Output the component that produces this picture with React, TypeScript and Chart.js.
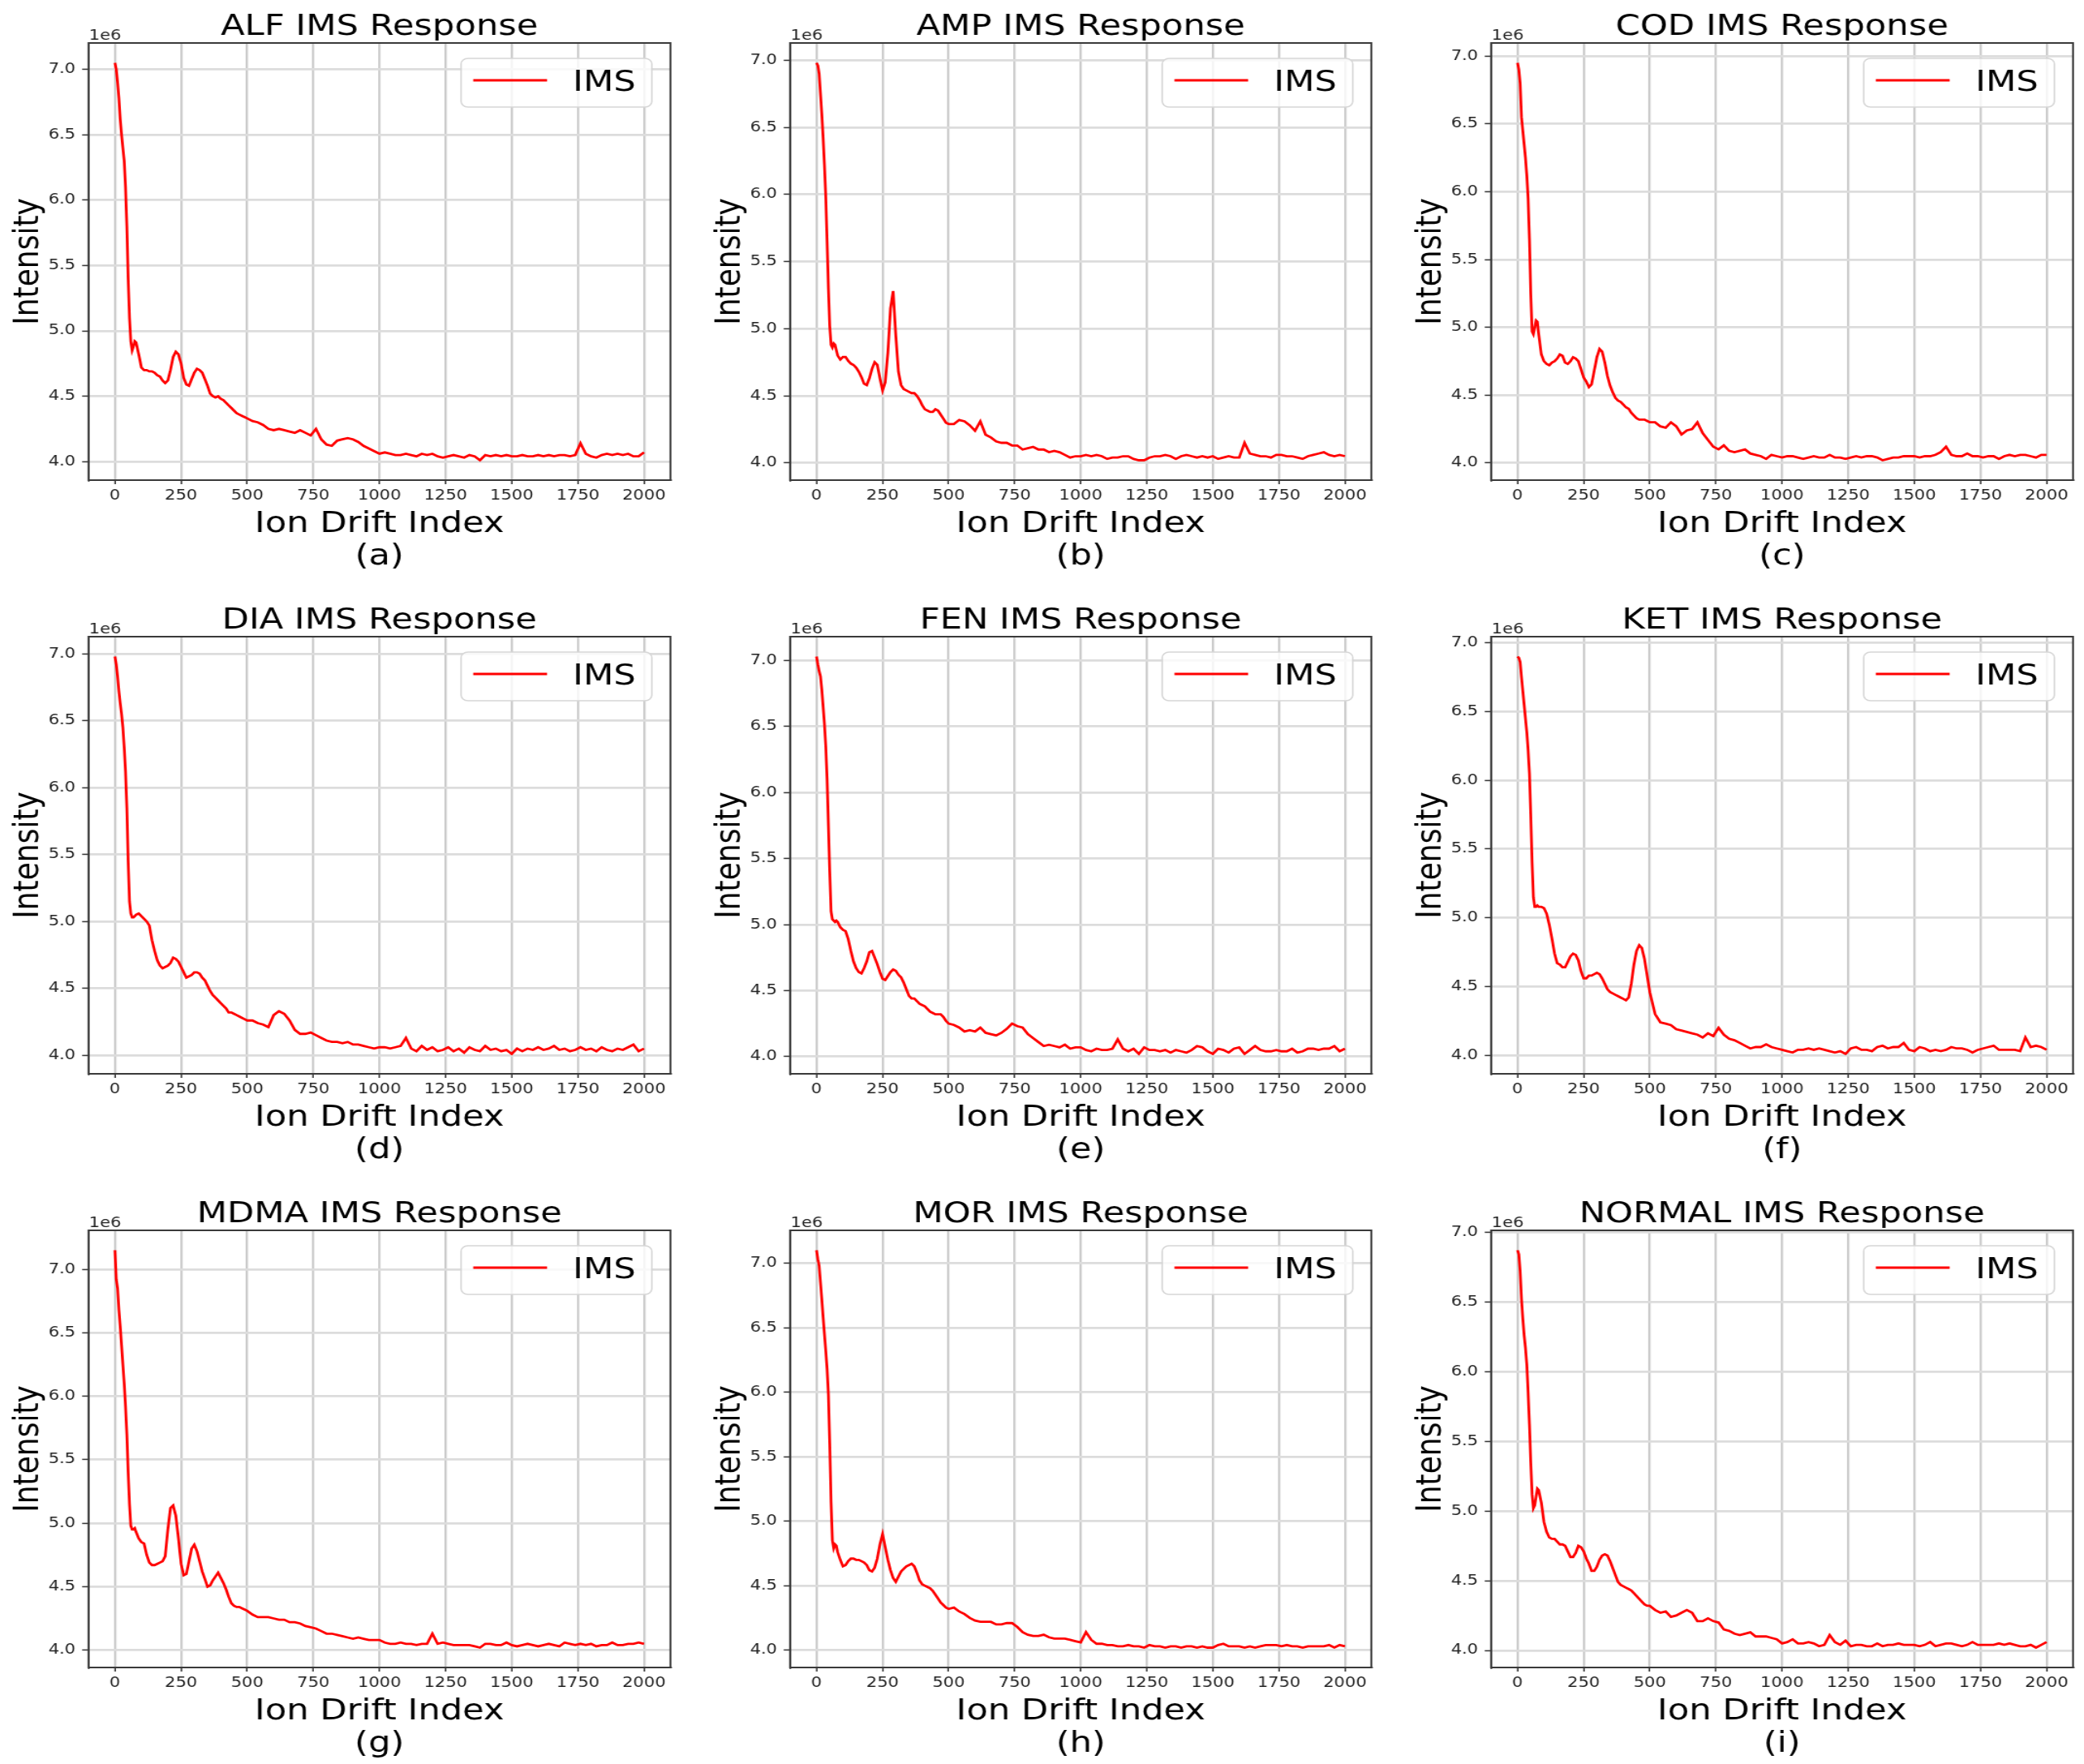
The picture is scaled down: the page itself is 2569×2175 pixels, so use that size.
import React, { useEffect, useRef } from "react";
import { Chart, registerables } from "chart.js";

Chart.register(...registerables);

// ---------------- data (intensity values in units of 1e6) ----------------
const X_INDEX = [
  0, 5, 10, 15, 20, 25, 30, 35, 40, 45, 50, 55, 60, 65, 70, 75, 80,
  90, 100, 110, 120, 130, 140, 150, 160, 170, 180, 190, 200, 210, 220, 230, 240, 250, 260, 270, 280,
  290, 300, 310, 320, 330, 340, 350, 360, 370, 380, 390, 400, 410, 420, 430, 440, 450, 460, 470, 480,
  490, 500,
  520, 540, 560, 580, 600, 620, 640, 660, 680, 700, 720, 740, 760, 780, 800, 820, 840, 860, 880, 900,
  920, 940, 960, 980, 1000, 1020, 1040, 1060, 1080, 1100, 1120, 1140, 1160, 1180, 1200, 1220, 1240, 1260, 1280, 1300,
  1320, 1340, 1360, 1380, 1400, 1420, 1440, 1460, 1480, 1500, 1520, 1540, 1560, 1580, 1600, 1620, 1640, 1660, 1680, 1700,
  1720, 1740, 1760, 1780, 1800, 1820, 1840, 1860, 1880, 1900, 1920, 1940, 1960, 1980, 2000,
];

const ALF = [
  7.05, 7.0, 6.9, 6.78, 6.62, 6.5, 6.4, 6.3, 6.1, 5.8, 5.4, 5.1, 4.92, 4.85, 4.88, 4.92, 4.91,
  4.82, 4.72, 4.7, 4.7, 4.69, 4.69, 4.68, 4.66, 4.65, 4.62,
  4.6, 4.62, 4.7, 4.8, 4.84, 4.82, 4.75, 4.64, 4.59, 4.58,
  4.63, 4.68, 4.71, 4.7, 4.68, 4.63, 4.58, 4.52, 4.5, 4.49,
  4.5, 4.48, 4.47, 4.45, 4.43, 4.41, 4.39, 4.37, 4.36, 4.35,
  4.34, 4.33,
  4.31, 4.3, 4.28, 4.25, 4.24, 4.25, 4.24, 4.23, 4.22, 4.24,
  4.22, 4.2, 4.25, 4.17, 4.13, 4.12, 4.16, 4.17, 4.18, 4.17,
  4.15, 4.12, 4.1, 4.08, 4.06, 4.07, 4.06, 4.05, 4.05, 4.06,
  4.05, 4.04, 4.06, 4.05, 4.06, 4.04, 4.03, 4.04, 4.05, 4.04,
  4.03, 4.05, 4.04, 4.01, 4.05, 4.04, 4.05, 4.04, 4.05, 4.04,
  4.04, 4.05, 4.04, 4.04, 4.05, 4.04, 4.05, 4.04, 4.05, 4.05,
  4.04, 4.05, 4.14, 4.06, 4.04, 4.03, 4.05, 4.06, 4.05, 4.06,
  4.05, 4.06, 4.04, 4.04, 4.07,
];

const AMP = [
  6.98, 6.96, 6.9, 6.75, 6.6, 6.42, 6.22, 5.98, 5.65, 5.3, 5.02, 4.88, 4.86, 4.89, 4.88, 4.84, 4.8,
  4.77, 4.79, 4.79, 4.76, 4.74, 4.73, 4.71, 4.68, 4.64, 4.59,
  4.58, 4.63, 4.7, 4.75, 4.73, 4.63, 4.54, 4.6, 4.82, 5.15,
  5.28, 4.95, 4.68, 4.58, 4.55, 4.54, 4.53, 4.52, 4.52, 4.5,
  4.47, 4.43, 4.4, 4.39, 4.38, 4.38, 4.4, 4.39, 4.36, 4.33,
  4.3, 4.29,
  4.29, 4.32, 4.31, 4.28, 4.24, 4.31, 4.21, 4.19, 4.16, 4.15,
  4.15, 4.13, 4.13, 4.1, 4.11, 4.12, 4.1, 4.1, 4.08, 4.09,
  4.08, 4.06, 4.04, 4.05, 4.05, 4.06, 4.05, 4.06, 4.05, 4.03,
  4.04, 4.04, 4.05, 4.05, 4.03, 4.02, 4.02, 4.04, 4.05, 4.05,
  4.06, 4.05, 4.03, 4.05, 4.06, 4.05, 4.04, 4.05, 4.04, 4.05,
  4.03, 4.04, 4.05, 4.04, 4.04, 4.15, 4.07, 4.06, 4.05, 4.05,
  4.04, 4.06, 4.06, 4.05, 4.05, 4.04, 4.03, 4.05, 4.06, 4.07,
  4.08, 4.06, 4.05, 4.06, 4.05,
];

const COD = [
  6.95, 6.9, 6.8, 6.55, 6.45, 6.35, 6.25, 6.12, 5.95, 5.65, 5.25, 4.97, 4.95, 5.0, 5.05, 5.04, 4.95,
  4.8, 4.75, 4.73, 4.72, 4.74, 4.75, 4.77, 4.8, 4.79, 4.74,
  4.73, 4.75, 4.78, 4.77, 4.75, 4.69, 4.63, 4.6, 4.56, 4.58,
  4.68, 4.78, 4.84, 4.82, 4.74, 4.64, 4.57, 4.52, 4.48, 4.46,
  4.45, 4.43, 4.41, 4.4, 4.37, 4.35, 4.33, 4.32, 4.32, 4.32,
  4.31, 4.3,
  4.3, 4.27, 4.26, 4.3, 4.27, 4.21, 4.24, 4.25, 4.3, 4.22,
  4.17, 4.12, 4.1, 4.13, 4.09, 4.08, 4.09, 4.1, 4.07, 4.06,
  4.05, 4.03, 4.06, 4.05, 4.04, 4.05, 4.05, 4.04, 4.03, 4.04,
  4.05, 4.04, 4.04, 4.06, 4.04, 4.04, 4.03, 4.04, 4.05, 4.04,
  4.05, 4.05, 4.04, 4.02, 4.03, 4.04, 4.04, 4.05, 4.05, 4.05,
  4.04, 4.05, 4.05, 4.06, 4.08, 4.12, 4.06, 4.05, 4.05, 4.07,
  4.05, 4.05, 4.04, 4.05, 4.05, 4.03, 4.05, 4.06, 4.05, 4.06,
  4.06, 4.05, 4.04, 4.06, 4.06,
];

const DIA = [
  6.98, 6.92, 6.83, 6.72, 6.63, 6.55, 6.45, 6.3, 6.12, 5.85, 5.45, 5.15, 5.06, 5.03, 5.03, 5.04, 5.05,
  5.06, 5.04, 5.02, 5.0, 4.97, 4.86, 4.78, 4.71, 4.67, 4.65,
  4.66, 4.67, 4.69, 4.73, 4.72, 4.7, 4.66, 4.62, 4.58, 4.59,
  4.6, 4.62, 4.62, 4.61, 4.58, 4.56, 4.52, 4.48, 4.45, 4.43,
  4.41, 4.39, 4.37, 4.35, 4.32, 4.32, 4.31, 4.3, 4.29, 4.28,
  4.27, 4.26,
  4.26, 4.24, 4.23, 4.21, 4.3, 4.33, 4.31, 4.26, 4.19, 4.16,
  4.16, 4.17, 4.15, 4.13, 4.11, 4.1, 4.1, 4.09, 4.1, 4.08,
  4.08, 4.07, 4.06, 4.05, 4.06, 4.06, 4.05, 4.06, 4.07, 4.13,
  4.05, 4.03, 4.07, 4.04, 4.06, 4.03, 4.04, 4.06, 4.03, 4.05,
  4.02, 4.06, 4.04, 4.03, 4.07, 4.04, 4.05, 4.03, 4.04, 4.01,
  4.05, 4.03, 4.05, 4.04, 4.06, 4.04, 4.05, 4.07, 4.04, 4.05,
  4.03, 4.04, 4.06, 4.04, 4.05, 4.03, 4.06, 4.04, 4.03, 4.05,
  4.04, 4.06, 4.08, 4.03, 4.05,
];

const FEN = [
  7.03, 6.97, 6.92, 6.88, 6.78, 6.65, 6.52, 6.35, 6.1, 5.75, 5.4, 5.1, 5.04, 5.03, 5.02, 5.03, 5.02,
  4.98, 4.96, 4.95, 4.89, 4.8, 4.72, 4.67, 4.64, 4.63, 4.67,
  4.72, 4.79, 4.8, 4.75, 4.7, 4.64, 4.59, 4.58, 4.61, 4.64,
  4.66, 4.65, 4.62, 4.6, 4.56, 4.51, 4.46, 4.44, 4.44, 4.42,
  4.4, 4.39, 4.38, 4.36, 4.34, 4.33, 4.32, 4.32, 4.32, 4.3,
  4.27, 4.25,
  4.24, 4.22, 4.19, 4.2, 4.19, 4.22, 4.18, 4.17, 4.16, 4.18,
  4.21, 4.25, 4.23, 4.22, 4.17, 4.14, 4.11, 4.08, 4.09, 4.08,
  4.07, 4.09, 4.06, 4.07, 4.07, 4.05, 4.04, 4.06, 4.05, 4.05,
  4.06, 4.13, 4.06, 4.04, 4.06, 4.02, 4.07, 4.05, 4.05, 4.04,
  4.05, 4.03, 4.05, 4.04, 4.03, 4.05, 4.08, 4.07, 4.04, 4.02,
  4.06, 4.05, 4.03, 4.06, 4.07, 4.02, 4.05, 4.08, 4.05, 4.04,
  4.04, 4.05, 4.04, 4.04, 4.06, 4.03, 4.04, 4.06, 4.06, 4.05,
  4.06, 4.06, 4.08, 4.04, 4.06,
];

const KET = [
  6.9, 6.89, 6.86, 6.75, 6.65, 6.55, 6.45, 6.35, 6.22, 6.05, 5.75, 5.4, 5.15, 5.08, 5.08, 5.09, 5.08,
  5.08, 5.07, 5.03, 4.95, 4.85, 4.74, 4.67, 4.66, 4.64, 4.64,
  4.68, 4.72, 4.74, 4.73, 4.69, 4.61, 4.56, 4.56, 4.58, 4.58,
  4.59, 4.6, 4.59, 4.56, 4.52, 4.48, 4.46, 4.45, 4.44, 4.43,
  4.42, 4.41, 4.4, 4.42, 4.52, 4.66, 4.76, 4.8, 4.78, 4.7,
  4.58, 4.46,
  4.3, 4.24, 4.23, 4.22, 4.19, 4.18, 4.17, 4.16, 4.15, 4.13,
  4.16, 4.14, 4.2, 4.15, 4.12, 4.11, 4.09, 4.07, 4.05, 4.06,
  4.06, 4.08, 4.06, 4.05, 4.04, 4.03, 4.02, 4.04, 4.04, 4.05,
  4.04, 4.05, 4.04, 4.03, 4.02, 4.03, 4.01, 4.05, 4.06, 4.04,
  4.04, 4.03, 4.06, 4.07, 4.05, 4.06, 4.06, 4.09, 4.04, 4.03,
  4.06, 4.05, 4.03, 4.04, 4.03, 4.04, 4.06, 4.05, 4.05, 4.04,
  4.02, 4.04, 4.05, 4.06, 4.07, 4.04, 4.04, 4.04, 4.04, 4.03,
  4.13, 4.06, 4.07, 4.06, 4.04,
];

const MDMA = [
  7.15, 6.92, 6.85, 6.68, 6.55, 6.4, 6.25, 6.1, 5.92, 5.7, 5.4, 5.15, 4.98, 4.95, 4.95, 4.96, 4.93,
  4.88, 4.85, 4.84, 4.75, 4.69, 4.67, 4.67, 4.68, 4.69, 4.7,
  4.74, 4.95, 5.12, 5.14, 5.06, 4.88, 4.68, 4.59, 4.6, 4.7,
  4.8, 4.83, 4.78, 4.7, 4.62, 4.56, 4.5, 4.51, 4.55, 4.58,
  4.61, 4.57, 4.53, 4.48, 4.42, 4.37, 4.35, 4.34, 4.34, 4.33,
  4.32, 4.31,
  4.28, 4.26, 4.26, 4.26, 4.25, 4.24, 4.24, 4.22, 4.22, 4.21,
  4.19, 4.18, 4.17, 4.15, 4.13, 4.13, 4.12, 4.11, 4.1, 4.09,
  4.1, 4.09, 4.08, 4.08, 4.08, 4.06, 4.05, 4.05, 4.06, 4.05,
  4.05, 4.04, 4.05, 4.05, 4.13, 4.05, 4.06, 4.05, 4.04, 4.04,
  4.04, 4.04, 4.03, 4.02, 4.05, 4.05, 4.04, 4.04, 4.06, 4.04,
  4.03, 4.04, 4.05, 4.04, 4.03, 4.04, 4.05, 4.04, 4.03, 4.06,
  4.05, 4.04, 4.05, 4.04, 4.05, 4.03, 4.04, 4.04, 4.06, 4.04,
  4.04, 4.05, 4.05, 4.06, 4.05,
];

const MOR = [
  7.1, 7.03, 6.98, 6.85, 6.72, 6.58, 6.45, 6.32, 6.18, 5.98, 5.6, 5.15, 4.85, 4.79, 4.82, 4.81, 4.76,
  4.7, 4.65, 4.66, 4.69, 4.71, 4.71, 4.7, 4.7, 4.69, 4.68,
  4.66, 4.62, 4.61, 4.64, 4.71, 4.82, 4.9, 4.8, 4.7, 4.62,
  4.56, 4.53, 4.57, 4.61, 4.63, 4.65, 4.66, 4.67, 4.65, 4.6,
  4.54, 4.51, 4.5, 4.49, 4.48, 4.46, 4.43, 4.4, 4.37, 4.35,
  4.33, 4.32,
  4.33, 4.3, 4.28, 4.25, 4.23, 4.22, 4.22, 4.22, 4.2, 4.2,
  4.21, 4.21, 4.18, 4.14, 4.12, 4.11, 4.11, 4.12, 4.1, 4.09,
  4.09, 4.09, 4.08, 4.07, 4.06, 4.14, 4.08, 4.05, 4.05, 4.04,
  4.04, 4.03, 4.03, 4.04, 4.03, 4.03, 4.02, 4.04, 4.03, 4.03,
  4.02, 4.03, 4.03, 4.02, 4.03, 4.03, 4.02, 4.03, 4.02, 4.02,
  4.04, 4.05, 4.03, 4.03, 4.03, 4.02, 4.03, 4.02, 4.03, 4.04,
  4.04, 4.04, 4.03, 4.04, 4.03, 4.03, 4.02, 4.03, 4.03, 4.03,
  4.03, 4.04, 4.02, 4.04, 4.03,
];

const NORMAL = [
  6.87, 6.84, 6.72, 6.52, 6.38, 6.26, 6.17, 6.05, 5.85, 5.62, 5.35, 5.12, 5.02, 5.04, 5.1, 5.16, 5.15,
  5.06, 4.92, 4.85, 4.81, 4.8, 4.8, 4.78, 4.76, 4.76, 4.75,
  4.71, 4.67, 4.67, 4.7, 4.75, 4.74, 4.71, 4.66, 4.62, 4.57,
  4.57, 4.6, 4.65, 4.68, 4.69, 4.68, 4.64, 4.59, 4.54, 4.49,
  4.47, 4.46, 4.45, 4.44, 4.43, 4.41, 4.39, 4.37, 4.35, 4.33,
  4.32, 4.32,
  4.29, 4.27, 4.28, 4.24, 4.25, 4.27, 4.29, 4.27, 4.21, 4.21,
  4.23, 4.21, 4.2, 4.15, 4.14, 4.12, 4.11, 4.12, 4.13, 4.1,
  4.1, 4.1, 4.09, 4.08, 4.05, 4.06, 4.08, 4.05, 4.05, 4.06,
  4.05, 4.03, 4.04, 4.11, 4.06, 4.04, 4.07, 4.03, 4.04, 4.04,
  4.03, 4.03, 4.05, 4.03, 4.04, 4.04, 4.05, 4.04, 4.04, 4.04,
  4.03, 4.04, 4.06, 4.03, 4.04, 4.05, 4.05, 4.04, 4.03, 4.04,
  4.06, 4.04, 4.04, 4.04, 4.04, 4.05, 4.04, 4.05, 4.04, 4.03,
  4.03, 4.04, 4.02, 4.04, 4.06,
];

const SERIES = [ALF, AMP, COD, DIA, FEN, KET, MDMA, MOR, NORMAL];
const PANEL_TITLES = [
  "ALF IMS Response", "AMP IMS Response", "COD IMS Response",
  "DIA IMS Response", "FEN IMS Response", "KET IMS Response",
  "MDMA IMS Response", "MOR IMS Response", "NORMAL IMS Response",
];
const PANEL_CAPTIONS = ["(a)", "(b)", "(c)", "(d)", "(e)", "(f)", "(g)", "(h)", "(i)"];
const X_TICKS = [0, 250, 500, 750, 1000, 1250, 1500, 1750, 2000];
const Y_TICKS = [4.0, 4.5, 5.0, 5.5, 6.0, 6.5, 7.0];
const LEGEND_LABEL = "IMS";
const X_LABEL = "Ion Drift Index";
const Y_LABEL = "Intensity";
const OFFSET_LABEL = "1e6";
const UNIT = 1e6;

// ---------------- layout ----------------
const CELL_W = 864.5; // css px
const CELL_H = 732;
const CANVAS_W = 720; // internal px (stretched horizontally to CELL_W)
const PLOT_LEFT = 90.78;
const PLOT_TOP = 53;
const PLOT_RIGHT_PAD = 32.1;
const X_AXIS_H = 40;
const PLOT_BOTTOM = 592;
const FONT = "'DejaVu Sans', sans-serif";
const RED = "#ff0000";

const decorPlugin = {
  id: "decor",
  afterDraw(chart: any, _args: any, opts: any) {
    const { ctx, chartArea: ca } = chart;
    const cx = (ca.left + ca.right) / 2;
    const cy = (ca.top + ca.bottom) / 2;
    ctx.save();
    // frame
    ctx.strokeStyle = "#3a3a3a";
    ctx.lineWidth = 2;
    ctx.strokeRect(ca.left, ca.top, ca.right - ca.left, ca.bottom - ca.top);

    // big texts
    ctx.fillStyle = "#000";
    ctx.font = `36px ${FONT}`;
    ctx.textAlign = "center";
    ctx.textBaseline = "alphabetic";
    ctx.fillText(opts.title, cx, ca.top - 10);
    ctx.fillText(X_LABEL, cx, 656);
    ctx.fillText(opts.caption, cx, 696);

    ctx.save();
    ctx.translate(38.5, cy);
    ctx.rotate(-Math.PI / 2);
    ctx.fillText(Y_LABEL, 0, 0);
    ctx.restore();

    // offset text
    ctx.font = `17.5px ${FONT}`;
    ctx.fillStyle = "#222";
    ctx.textAlign = "left";
    ctx.fillText(OFFSET_LABEL, ca.left + 0.5, ca.top - 4);

    // legend
    const bl = ca.right - 214.8;
    const br = ca.right - 19.1;
    const bt = ca.top + 19;
    const bb = ca.top + 79;
    ctx.beginPath();
    if ((ctx as any).roundRect) {
      (ctx as any).roundRect(bl, bt, br - bl, bb - bt, 7);
    } else {
      ctx.rect(bl, bt, br - bl, bb - bt);
    }
    ctx.fillStyle = "rgba(255,255,255,0.8)";
    ctx.fill();
    ctx.strokeStyle = "#d6d6d6";
    ctx.lineWidth = 1.6;
    ctx.stroke();

    ctx.beginPath();
    ctx.moveTo(ca.right - 202.3, ca.top + 46);
    ctx.lineTo(ca.right - 126.6, ca.top + 46);
    ctx.strokeStyle = RED;
    ctx.lineWidth = 2.8;
    ctx.stroke();

    ctx.fillStyle = "#000";
    ctx.font = `36px ${FONT}`;
    ctx.textAlign = "left";
    ctx.fillText(LEGEND_LABEL, ca.right - 100.1, ca.top + 59);
    ctx.restore();
  },
};

function Panel({ idx }: { idx: number }) {
  const ref = useRef<HTMLCanvasElement | null>(null);

  useEffect(() => {
    const canvas = ref.current;
    if (!canvas) return;
    const vals = SERIES[idx];
    const n = Math.min(vals.length, X_INDEX.length);
    const points = [] as { x: number; y: number }[];
    for (let i = 0; i < n; i++) points.push({ x: X_INDEX[i], y: vals[i] * UNIT });

    const xs = X_INDEX.slice(0, n);
    const xLo = Math.min(...xs);
    const xHi = Math.max(...xs);
    const xPad = (xHi - xLo) * 0.05;
    const ys = vals.slice(0, n);
    const yLo = Math.min(...ys);
    const yHi = Math.max(...ys);
    const yPad = (yHi - yLo) * 0.05;

    const chart = new Chart(canvas, {
      type: "line",
      data: {
        datasets: [
          {
            label: LEGEND_LABEL,
            data: points,
            borderColor: RED,
            backgroundColor: RED,
            borderWidth: 2.8,
            pointRadius: 0,
            tension: 0,
            fill: false,
          },
        ],
      },
      options: {
        animation: false,
        responsive: false,
        devicePixelRatio: 1,
        events: [],
        layout: {
          padding: {
            left: 0,
            top: PLOT_TOP,
            right: PLOT_RIGHT_PAD,
            bottom: CELL_H - PLOT_BOTTOM - X_AXIS_H,
          },
        },
        plugins: {
          legend: { display: false },
          title: { display: false },
          tooltip: { enabled: false },
          decor: { title: PANEL_TITLES[idx], caption: PANEL_CAPTIONS[idx] },
        } as any,
        scales: {
          x: {
            type: "linear",
            min: (xLo - xPad),
            max: (xHi + xPad),
            afterFit: (s: any) => {
              s.height = X_AXIS_H;
            },
            afterBuildTicks: (s: any) => {
              s.ticks = X_TICKS.map((v) => ({ value: v }));
            },
            grid: {
              color: "#cccccc",
              lineWidth: 2.4,
              drawTicks: true,
              tickLength: 5,
              tickColor: "#3a3a3a",
              tickWidth: 1.6,
            },
            border: { display: true, color: "#3a3a3a", width: 2 },
            ticks: {
              autoSkip: false,
              maxRotation: 0,
              padding: 3.5,
              color: "#222",
              font: { family: FONT, size: 17.5 },
              callback: (v: any) => String(v),
            },
          },
          y: {
            type: "linear",
            min: (yLo - yPad) * UNIT,
            max: (yHi + yPad) * UNIT,
            afterFit: (s: any) => {
              s.width = PLOT_LEFT;
            },
            afterBuildTicks: (s: any) => {
              s.ticks = Y_TICKS.filter((v) => v * UNIT >= s.min - 1 && v * UNIT <= s.max + 1).map((v) => ({
                value: v * UNIT,
              }));
            },
            grid: {
              color: "#dcdcdc",
              lineWidth: 2.8,
              drawTicks: true,
              tickLength: 6.5,
              tickColor: "#3a3a3a",
              tickWidth: 1.6,
            },
            border: { display: true, color: "#3a3a3a", width: 2 },
            ticks: {
              autoSkip: false,
              padding: 6.8,
              color: "#222",
              font: { family: FONT, size: 17.5 },
              callback: (v: any) => (Number(v) / UNIT).toFixed(1),
            },
          },
        },
      },
      plugins: [decorPlugin],
    } as any);

    return () => chart.destroy();
  }, [idx]);

  const col = idx % 3;
  const row = Math.floor(idx / 3);
  return (
    <canvas
      ref={ref}
      width={CANVAS_W}
      height={CELL_H}
      style={{
        position: "absolute",
        left: col * CELL_W,
        top: row * CELL_H,
        width: CELL_W,
        height: CELL_H,
      }}
    />
  );
}

export default function App() {
  return (
    <div
      style={{
        position: "absolute",
        left: 0,
        top: 0,
        width: 2569,
        height: 2175,
        background: "#ffffff",
        overflow: "hidden",
      }}
    >
      {SERIES.map((_, i) => (
        <Panel key={i} idx={i} />
      ))}
    </div>
  );
}
